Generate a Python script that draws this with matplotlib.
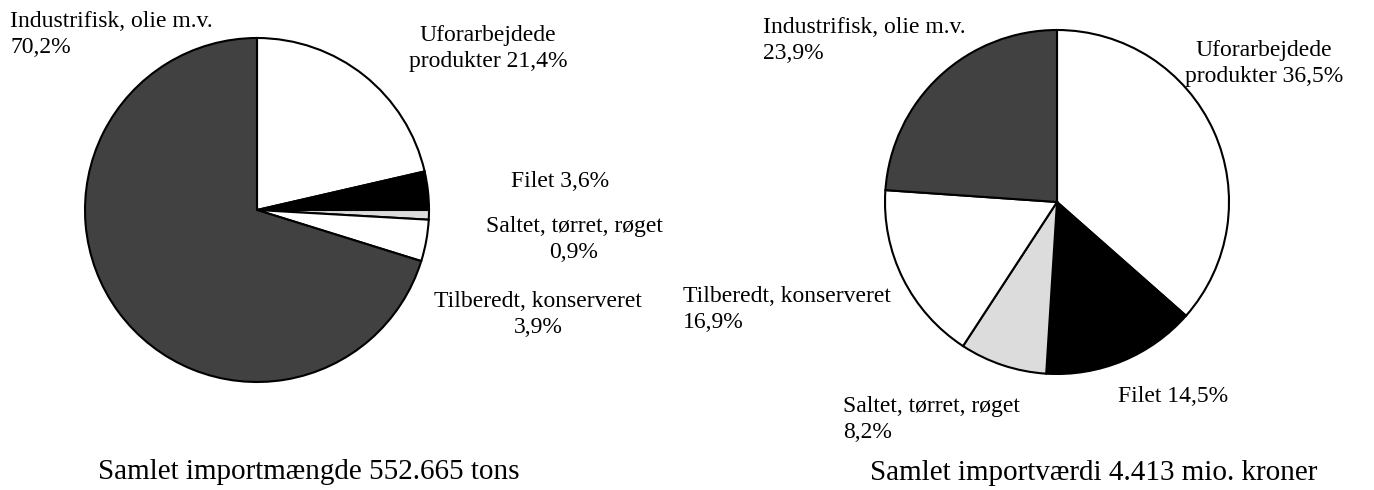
"""
Two pie charts: fish import by volume and by value.
"""

import matplotlib
matplotlib.use("Agg")
import matplotlib.pyplot as plt

plt.rcParams["font.family"] = ["Liberation Serif", "DejaVu Serif"]

W, H = 1374, 490

categories = [
    "Uforarbejdede produkter",
    "Filet",
    "Saltet, tørret, røget",
    "Tilberedt, konserveret",
    "Industrifisk, olie m.v.",
]
volume_share = [21.4, 3.6, 0.9, 3.9, 70.2]
value_share = [36.5, 14.5, 8.2, 16.9, 23.9]
slice_colors = ["white", "black", "#dcdcdc", "white", "#414141"]

volume_title = "Samlet importmængde 552.665 tons"
value_title = "Samlet importværdi 4.413 mio. kroner"


def pct(v):
    return f"{v:.1f}".replace(".", ",") + "%"


fig = plt.figure(figsize=(W / 100, H / 100), dpi=100)
ax = fig.add_axes([0, 0, 1, 1])


def py(y):
    # pixel row (from top) to data y
    return H - y


def draw_pie(values, cx, cy, r):
    ax.pie(
        values, colors=slice_colors, startangle=90, counterclock=False,
        center=(cx, py(cy)), radius=r, frame=True,
        wedgeprops=dict(edgecolor="black", linewidth=1.5),
    )


draw_pie(volume_share, 257, 210, 172)
draw_pie(value_share, 1057, 202, 172)
ax.set_xlim(0, W)
ax.set_ylim(0, H)
ax.set_aspect("auto")
ax.axis("off")

FS = 17
STEP = 26


def label(x, y, lines, ha="left", fs=FS):
    # y is the baseline of the first line, in pixel rows
    for i, line in enumerate(lines):
        ax.text(x, py(y + i * STEP), line, ha=ha, va="baseline", fontsize=fs)


v, w = volume_share, value_share

# left pie (volume)
label(10, 27, [categories[4], pct(v[4])])
label(488, 41, ["Uforarbejdede", f"produkter {pct(v[0])}"], ha="center")
label(560, 187, [f"{categories[1]} {pct(v[1])}"], ha="center")
label(574, 232, [categories[2], pct(v[2])], ha="center")
label(538, 307, [categories[3], pct(v[3])], ha="center")
ax.text(98, py(479), volume_title, ha="left", va="baseline", fontsize=21)

# right pie (value)
label(763, 33, [categories[4], pct(w[4])])
label(1264, 56, ["Uforarbejdede", f"produkter {pct(w[0])}"], ha="center")
label(1118, 402, [f"{categories[1]} {pct(w[1])}"])
label(843, 412, [categories[2], pct(w[2])])
label(683, 302, [categories[3], pct(w[3])])
ax.text(870, py(480), value_title, ha="left", va="baseline", fontsize=21)

fig.savefig("out.png", dpi=100)
